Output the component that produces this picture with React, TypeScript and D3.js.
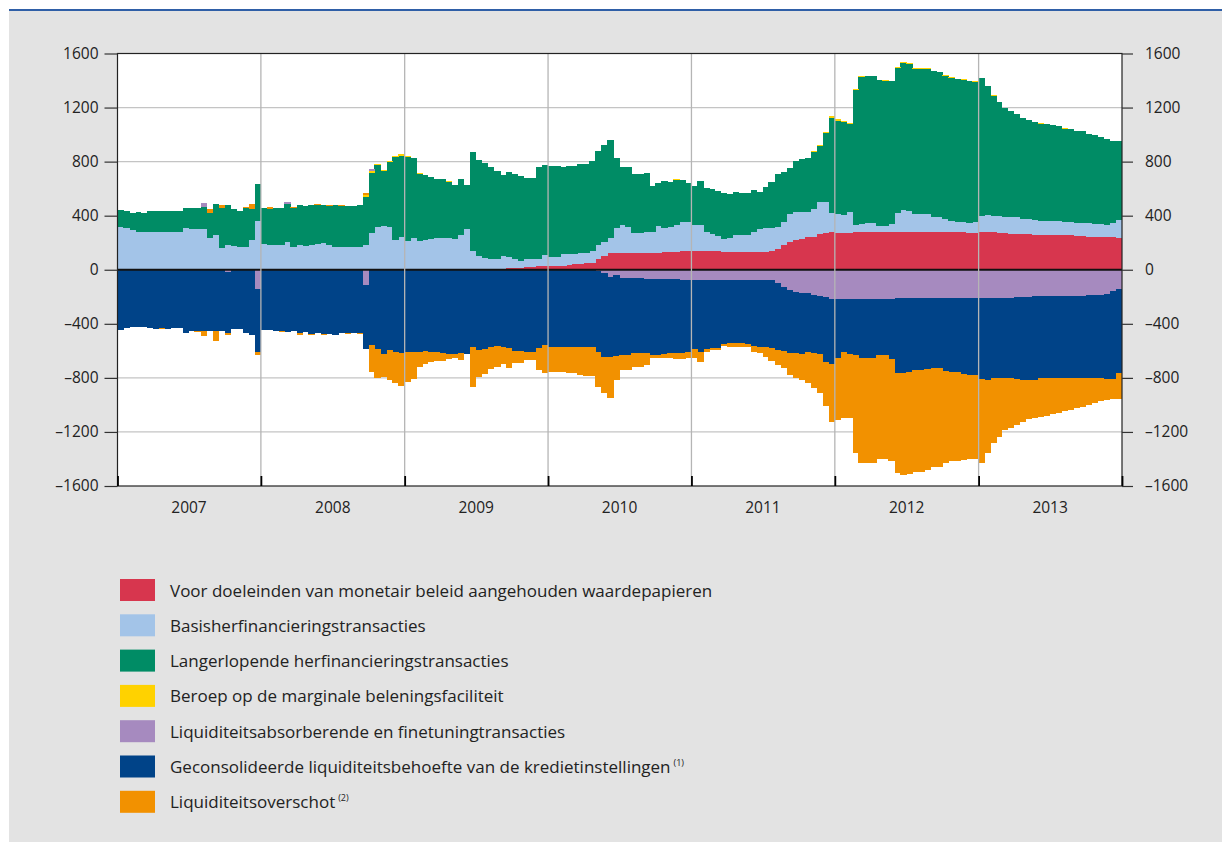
import React, { useEffect, useRef } from 'react';
import * as d3 from 'd3';

// half-month periods, 24 per year, 2007 - 2013 (EUR billion)
const years = ['2007', '2008', '2009', '2010', '2011', '2012', '2013'];

const securities = [
  0, 0, 0, 0, 0, 0, 0, 0, 0, 0, 0, 0, 0, 0, 0, 0, 0, 0, 0, 0, 0, 0, 0, 0,
  0, 0, 0, 0, 0, 0, 0, 0, 0, 0, 0, 0, 0, 0, 0, 0, 0, 0, 0, 0, 0, 0, 0, 0,
  0, 0, 0, 0, 0, 0, 0, 0, 0, 0, 0, 0, 0, 0, 0, 0, 8, 10, 12, 15, 20, 22, 25, 28,
  28, 28, 30, 35, 42, 45, 47, 52, 80, 105, 121, 126, 126, 126, 126, 126, 126, 126, 126, 128, 128, 132, 138, 138,
  138, 138, 138, 138, 136, 133, 131, 131, 133, 133, 135, 135, 135, 138, 150, 180, 205, 220, 230, 239, 244, 264, 272, 276,
  275, 275, 275, 278, 280, 281, 281, 280, 280, 280, 280, 280, 280, 279, 279, 279, 278, 278, 278, 277, 277, 276, 275, 274,
  276, 277, 276, 272, 269, 265, 264, 262, 261, 259, 256, 256, 256, 255, 254, 254, 252, 251, 245, 244, 239, 239, 239, 237,
];

const mro = [
  318, 310, 293, 281, 279, 281, 281, 281, 281, 281, 281, 306, 298, 298, 303, 232, 256, 158, 182, 175, 170, 170, 219, 360,
  190, 185, 182, 185, 205, 170, 180, 175, 185, 190, 195, 180, 168, 165, 165, 165, 168, 180, 275, 315, 323, 320, 219, 240,
  215, 235, 210, 219, 225, 238, 238, 232, 224, 260, 300, 140, 101, 88, 80, 80, 93, 85, 64, 52, 56, 54, 51, 80,
  68, 68, 85, 78, 74, 76, 79, 90, 100, 100, 111, 184, 204, 187, 148, 148, 150, 155, 197, 178, 185, 200, 217, 215,
  192, 190, 142, 124, 114, 95, 104, 125, 123, 127, 145, 165, 171, 172, 163, 170, 205, 204, 194, 191, 206, 236, 228, 144,
  137, 129, 150, 52, 60, 62, 62, 43, 43, 60, 140, 161, 155, 133, 133, 131, 114, 112, 94, 83, 78, 74, 73, 76,
  119, 125, 121, 123, 121, 125, 124, 115, 111, 108, 106, 106, 106, 105, 98, 96, 96, 94, 98, 96, 96, 93, 106, 128,
];

const ltro = [
  123, 124, 128, 148, 142, 150, 155, 150, 155, 150, 155, 148, 156, 160, 158, 185, 234, 296, 296, 271, 266, 284, 230, 278,
  264, 268, 275, 275, 280, 285, 300, 295, 295, 290, 285, 295, 310, 308, 310, 305, 308, 355, 440, 460, 407, 480, 613, 605,
  620, 590, 500, 480, 458, 437, 437, 420, 405, 410, 325, 730, 710, 702, 680, 650, 600, 630, 636, 628, 600, 600, 684, 667,
  670, 668, 647, 651, 651, 665, 660, 662, 701, 718, 730, 520, 431, 444, 438, 438, 438, 339, 320, 352, 338, 335, 310, 290,
  291, 332, 325, 333, 335, 337, 327, 321, 313, 310, 310, 275, 309, 340, 394, 372, 345, 381, 394, 395, 420, 415, 510, 706,
  692, 691, 655, 1002, 1085, 1087, 1087, 1079, 1077, 1055, 1075, 1090, 1090, 1077, 1077, 1079, 1076, 1071, 1064, 1060, 1055, 1055, 1045, 1042,
  1021, 955, 891, 843, 810, 788, 762, 743, 736, 728, 720, 714, 708, 702, 693, 695, 680, 680, 662, 656, 644, 633, 610, 589,
];

const marginal = [
  0, 0, 0, 0, 0, 0, 0, 0, 0, 0, 0, 0, 0, 0, 0, 0, 0, 0, 0, 0, 0, 0, 0, 0,
  0, 0, 0, 0, 0, 0, 0, 0, 0, 0, 0, 0, 0, 0, 0, 0, 0, 15, 15, 10, 10, 5, 10, 10,
  5, 5, 3, 3, 0, 0, 0, 3, 0, 0, 0, 0, 0, 0, 0, 0, 3, 0, 0, 0, 3, 0, 0, 0,
  2, 0, 0, 0, 0, 0, 0, 0, 0, 0, 0, 0, 0, 0, 0, 0, 3, 0, 0, 0, 0, 4, 0, 0,
  0, 0, 0, 0, 0, 0, 0, 0, 0, 0, 0, 0, 0, 0, 0, 0, 0, 0, 5, 5, 8, 10, 10, 10,
  8, 5, 5, 8, 5, 5, 5, 5, 5, 5, 5, 5, 5, 5, 5, 5, 4, 4, 4, 5, 5, 5, 5, 6,
  4, 3, 2, 2, 0, 0, 0, 0, 0, 0, 2, 2, 0, 0, 2, 0, 0, 2, 0, 0, 0, 3, 0, 0,
];

// liability side: positive values are drawn below zero
const absorbing = [
  0, 0, 0, 0, 0, 0, 0, 0, 0, 0, 0, 0, 0, 0, -30, 0, 0, 0, 15, 0, 0, 0, 0, 143,
  0, 0, 0, 0, -15, 0, 0, 0, 0, 0, 0, 0, 0, 0, 0, 0, 0, 110, -15, 0, 0, 0, 0, 5,
  0, 0, 0, 0, 0, 0, 0, 0, 0, 0, 0, 0, 0, 0, 0, 0, 0, 0, 0, 0, 0, 0, 0, 0,
  0, 0, 0, 0, 0, 0, 0, 0, 10, 25, 55, 40, 59, 59, 59, 62, 67, 67, 67, 67, 67, 70, 76, 76,
  76, 76, 76, 76, 76, 76, 76, 76, 76, 76, 76, 76, 76, 76, 100, 130, 150, 163, 170, 175, 187, 195, 205, 215,
  219, 219, 219, 217, 217, 217, 217, 217, 217, 217, 212, 207, 207, 207, 207, 207, 207, 207, 207, 207, 207, 207, 207, 207,
  207, 207, 207, 207, 207, 207, 205, 200, 200, 195, 195, 195, 195, 195, 195, 195, 195, 195, 187, 187, 187, 180, 160, 145,
];

const needs = [
  446, 434, 426, 426, 421, 434, 436, 434, 436, 430, 432, 465, 451, 456, 455, 450, 455, 451, 456, 441, 440, 471, 483, 463,
  446, 448, 450, 452, 460, 455, 470, 462, 475, 470, 472, 475, 480, 470, 470, 468, 470, 480, 555, 590, 620, 594, 606, 610,
  606, 612, 610, 600, 605, 612, 618, 622, 624, 618, 622, 575, 594, 590, 568, 566, 574, 580, 598, 600, 606, 606, 580, 560,
  569, 569, 569, 570, 572, 570, 570, 575, 596, 618, 588, 600, 572, 572, 560, 557, 552, 564, 564, 558, 552, 549, 543, 534,
  514, 534, 514, 506, 506, 474, 469, 469, 469, 474, 489, 493, 499, 504, 494, 470, 469, 456, 450, 437, 432, 430, 475, 485,
  431, 387, 401, 414, 433, 439, 439, 414, 414, 443, 555, 560, 548, 535, 535, 528, 523, 523, 543, 547, 547, 563, 572, 572,
  603, 608, 597, 597, 597, 597, 605, 616, 616, 621, 609, 609, 609, 609, 609, 609, 609, 609, 617, 617, 617, 630, 652, 620,
];

const excess = [
  0, 0, 0, 0, 0, 0, 0, 5, 0, 0, 0, 5, 0, 5, 35, -30, 70, -25, 15, 0, 0, -10, -40, 25,
  0, -10, 0, 10, 0, -8, 15, -5, 10, -5, 8, -5, 0, -5, 8, 0, 8, -20, 200, 210, 170, 220, 234, 243,
  222, 200, 107, 95, 75, 65, 55, 35, 30, 50, 5, 290, 200, 180, 170, 150, 120, 145, 95, 90, 65, 62, 160, 205,
  185, 185, 185, 197, 195, 209, 216, 211, 260, 271, 308, 175, 111, 111, 98, 98, 86, 25, 25, 30, 35, 45, 40, 46,
  66, 70, 16, 12, 12, 12, 24, 24, 24, 19, 41, 50, 68, 93, 111, 130, 160, 184, 196, 224, 259, 289, 330, 424,
  462, 493, 479, 727, 777, 776, 776, 772, 772, 752, 739, 751, 756, 752, 752, 747, 727, 727, 677, 658, 658, 638, 624, 624,
  617, 543, 480, 431, 382, 369, 339, 308, 291, 283, 283, 276, 264, 258, 241, 234, 221, 214, 197, 180, 168, 154, 147, 194,
];

const yTicks = [-1600, -1200, -800, -400, 0, 400, 800, 1200, 1600];

const legendItems = [
  { key: 'securities', label: 'Voor doeleinden van monetair beleid aangehouden waardepapieren', note: '' },
  { key: 'mro', label: 'Basisherfinancieringstransacties', note: '' },
  { key: 'ltro', label: 'Langerlopende herfinancieringstransacties', note: '' },
  { key: 'marginal', label: 'Beroep op de marginale beleningsfaciliteit', note: '' },
  { key: 'absorbing', label: 'Liquiditeitsabsorberende en finetuningtransacties', note: '' },
  { key: 'needs', label: 'Geconsolideerde liquiditeitsbehoefte van de kredietinstellingen', note: '(1)' },
  { key: 'excess', label: 'Liquiditeitsoverschot', note: '(2)' },
];

const colors = {
  securities: '#d7364e',
  mro: '#a3c4e8',
  ltro: '#008c65',
  marginal: '#ffd200',
  absorbing: '#a68abf',
  needs: '#004388',
  excess: '#f29100',
};

const FONT = "'Open Sans', 'Noto Sans', sans-serif";

const App = () => {
  const svgRef = useRef(null);

  useEffect(() => {
    if (!svgRef.current) return;
    const svg = d3.select(svgRef.current);
    svg.selectAll('*').remove();

    const X0 = 117.5, X1 = 1122, YT = 53.5, YB = 486;

    // panel
    svg.append('rect').attr('x', 9).attr('y', 11).attr('width', 1213).attr('height', 831).attr('fill', '#e3e3e3');
    svg.append('line').attr('x1', 9).attr('x2', 1222).attr('y1', 10).attr('y2', 10)
      .attr('stroke', '#2f5fa7').attr('stroke-width', 2);

    const periods = d3.timeMonth.range(new Date(2007, 0, 1), new Date(2014, 0, 1)).flatMap(m => {
      const mid = d3.timeDay.offset(m, 15);
      return [{ start: m, end: mid }, { start: mid, end: d3.timeMonth.offset(m, 1) }];
    });

    const rows = periods.map((p, i) => ({
      ...p,
      securities: securities[i],
      mro: mro[i],
      ltro: ltro[i],
      marginal: marginal[i],
      absorbing: -absorbing[i],
      needs: -needs[i],
      excess: -excess[i],
    }));

    const keys = ['securities', 'mro', 'ltro', 'marginal', 'absorbing', 'needs', 'excess'];
    const series = d3.stack().keys(keys).offset(d3.stackOffsetDiverging)(rows);

    const x = d3.scaleTime()
      .domain([new Date(2007, 0, 1), new Date(2014, 0, 1)])
      .range([X0, X1]);
    const y = d3.scaleLinear().domain([-1600, 1600]).range([YB, YT]);

    svg.append('rect').attr('x', X0).attr('y', YT).attr('width', X1 - X0).attr('height', YB - YT).attr('fill', '#fff');

    // horizontal grid (behind bars)
    svg.append('g').selectAll('line')
      .data(yTicks.filter(t => t !== 0 && Math.abs(t) !== 1600))
      .enter().append('line')
      .attr('x1', X0).attr('x2', X1)
      .attr('y1', d => y(d)).attr('y2', d => y(d))
      .attr('stroke', '#c4c4c4').attr('stroke-width', 1.3);

    // bars
    svg.append('g').attr('shape-rendering', 'crispEdges')
      .selectAll('g')
      .data(series)
      .enter().append('g')
      .attr('fill', s => colors[s.key])
      .selectAll('rect')
      .data(s => s.filter(d => d[1] !== d[0]))
      .enter().append('rect')
      .attr('x', d => x(d.data.start))
      .attr('width', d => x(d.data.end) - x(d.data.start) + 0.4)
      .attr('y', d => y(Math.max(d[0], d[1])))
      .attr('height', d => Math.abs(y(d[0]) - y(d[1])));

    // zero line
    svg.append('line').attr('x1', X0).attr('x2', X1).attr('y1', y(0)).attr('y2', y(0))
      .attr('stroke', '#111').attr('stroke-width', 1.8);

    // year lines (in front of bars)
    const yearStarts = d3.timeYear.range(new Date(2007, 0, 1), new Date(2014, 0, 2));
    svg.append('g').selectAll('line')
      .data(yearStarts.slice(1, -1))
      .enter().append('line')
      .attr('x1', d => x(d)).attr('x2', d => x(d))
      .attr('y1', YT).attr('y2', YB)
      .attr('stroke', '#b5b5b5').attr('stroke-width', 1.3);

    // frame
    svg.append('rect').attr('x', X0).attr('y', YT).attr('width', X1 - X0).attr('height', YB - YT)
      .attr('fill', 'none').attr('stroke', '#222').attr('stroke-width', 1.2);

    // bottom ticks pointing inward
    const bottom = svg.append('g').attr('transform', `translate(0,${YB})`)
      .call(d3.axisTop(x).tickValues(yearStarts).tickSize(10).tickFormat(() => ''));
    bottom.select('.domain').remove();
    bottom.selectAll('line').attr('stroke', '#000').attr('stroke-width', 1.8);

    // year labels
    svg.append('g').selectAll('text')
      .data(years)
      .enter().append('text')
      .attr('x', d => x(new Date(+d, 6, 2)))
      .attr('y', 513)
      .attr('text-anchor', 'middle')
      .attr('font-family', FONT).attr('font-size', 15.5).attr('fill', '#222')
      .text(d => d);

    const fmt = d => (d < 0 ? '\u2013' + Math.abs(d) : String(d));

    const left = svg.append('g').attr('transform', `translate(${X0},0)`)
      .call(d3.axisLeft(y).tickValues(yTicks).tickSize(13).tickPadding(6).tickFormat(fmt));
    const right = svg.append('g').attr('transform', `translate(${X1},0)`)
      .call(d3.axisRight(y).tickValues(yTicks).tickSize(11).tickPadding(12).tickFormat(fmt));
    [left, right].forEach(a => {
      a.select('.domain').remove();
      a.attr('font-family', FONT).attr('font-size', 15.5).attr('color', '#222');
      a.selectAll('line').attr('stroke', '#333').attr('stroke-width', 1.2);
    });

    // legend
    const legend = svg.append('g').selectAll('g')
      .data(legendItems)
      .enter().append('g')
      .attr('transform', (d, i) => `translate(120,${579 + i * 35.3})`);
    legend.append('rect').attr('width', 35).attr('height', 22).attr('fill', d => colors[d.key]);
    const lt = legend.append('text')
      .attr('x', 50).attr('y', 17.5)
      .attr('font-family', FONT).attr('font-size', 17).attr('fill', '#222');
    lt.append('tspan').text(d => d.label);
    lt.filter(d => d.note).append('tspan')
      .attr('dx', 3).attr('dy', -7).attr('font-size', 9)
      .text(d => d.note);
  }, []);

  return (
    <div>
      <style>{'body{margin:0}'}</style>
      <svg ref={svgRef} width={1222} height={842} style={{ display: 'block' }} />
    </div>
  );
};

export default App;
